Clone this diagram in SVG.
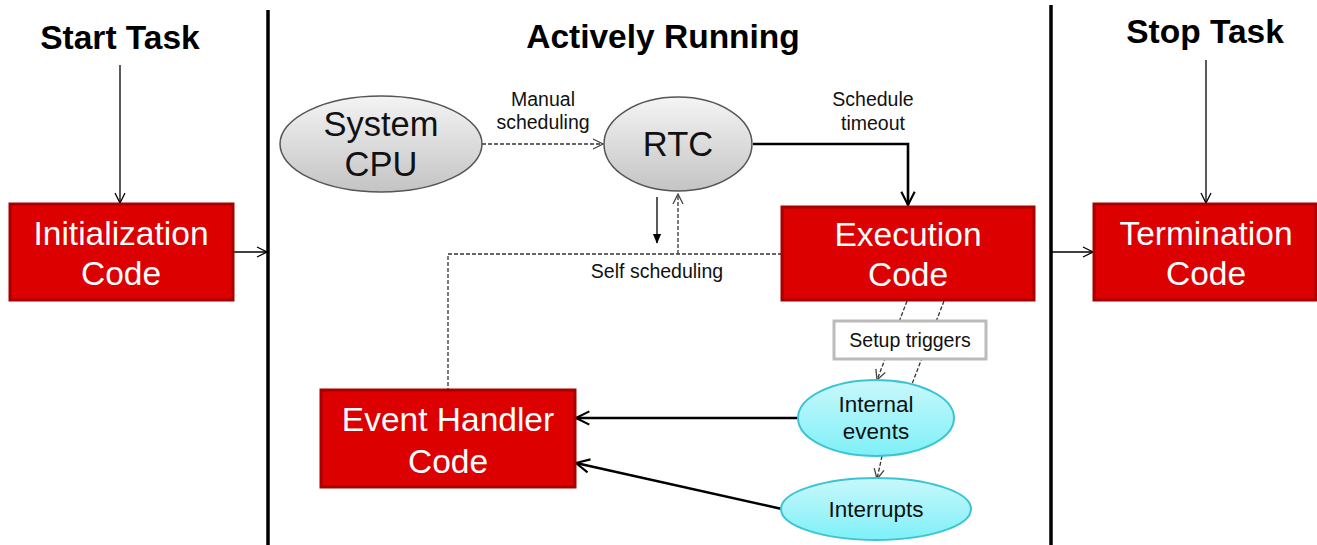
<svg xmlns="http://www.w3.org/2000/svg" width="1317" height="545" viewBox="0 0 1317 545">
<defs>
<linearGradient id="gray" x1="0" y1="0" x2="0" y2="1"><stop offset="0" stop-color="#f4f4f4"/><stop offset="1" stop-color="#c4c4c4"/></linearGradient>
<linearGradient id="cyan" x1="0" y1="0" x2="0" y2="1"><stop offset="0" stop-color="#c8f8fb"/><stop offset="1" stop-color="#7ef0f8"/></linearGradient>
<marker id="ah" viewBox="0 0 12 12" refX="11" refY="6" markerWidth="12" markerHeight="12" markerUnits="userSpaceOnUse" orient="auto"><path d="M1,1 L11,6 L1,11" fill="none" stroke="#000" stroke-width="1.3"/></marker>
<marker id="ahd" viewBox="0 0 12 12" refX="11" refY="6" markerWidth="12" markerHeight="12" markerUnits="userSpaceOnUse" orient="auto"><path d="M1,1 L11,6 L1,11" fill="none" stroke="#444" stroke-width="1.3"/></marker>
<marker id="ahb" viewBox="0 0 12 12" refX="11" refY="6" markerWidth="16" markerHeight="16" markerUnits="userSpaceOnUse" orient="auto"><path d="M1,1 L11,6 L1,11" fill="none" stroke="#000" stroke-width="1.6"/></marker>
<marker id="ahf" viewBox="0 0 12 12" refX="11" refY="6" markerWidth="10" markerHeight="12" markerUnits="userSpaceOnUse" orient="auto"><path d="M0,1 L12,6 L0,11 Z" fill="#000"/></marker>
</defs>
<style>
.title{font-family:"Liberation Sans",Arial,sans-serif;font-weight:bold;font-size:33.5px;fill:#000;text-anchor:middle}
.red{fill:#dc0000;stroke:#a80000;stroke-width:3}
.rt{font-family:"Liberation Sans",Arial,sans-serif;font-size:33.5px;fill:#fff;text-anchor:middle}
.gt{font-family:"Liberation Sans",Arial,sans-serif;font-size:34.5px;fill:#111;text-anchor:middle}
.ct{font-family:"Liberation Sans",Arial,sans-serif;font-size:22.5px;fill:#111;text-anchor:middle}
.lbl{font-family:"Liberation Sans",Arial,sans-serif;font-size:19.5px;fill:#111;text-anchor:middle}
.gray{fill:url(#gray);stroke:#555;stroke-width:1.5}
.cy{fill:url(#cyan);stroke:#3cc4d4;stroke-width:2}
.thin{fill:none;stroke:#000;stroke-width:1.3}
.thick{fill:none;stroke:#000;stroke-width:2.6}
.dash{fill:none;stroke:#333;stroke-width:1.3;stroke-dasharray:4,2}
.sep{stroke:#000;stroke-width:3.5}
</style>
<g id="separators">
<line class="sep" x1="268" y1="10" x2="268" y2="545"/>
<line class="sep" x1="1051" y1="5" x2="1051" y2="545"/>
</g>
<g id="titles">
<text class="title" x="120" y="49">Start Task</text>
<text class="title" x="663" y="48">Actively Running</text>
<text class="title" x="1205" y="43">Stop Task</text>
</g>
<g id="connectors">
<line class="thin" x1="120" y1="65" x2="120" y2="203" marker-end="url(#ah)"/>
<line class="thin" x1="233" y1="252" x2="267" y2="252" marker-end="url(#ah)"/>
<line class="thin" x1="1206" y1="60" x2="1206" y2="203" marker-end="url(#ah)"/>
<line class="thin" x1="1052" y1="252" x2="1093" y2="252" marker-end="url(#ah)"/>
<line class="dash" x1="482" y1="144" x2="603" y2="144" marker-end="url(#ahd)"/>
<polyline class="thick" points="753,144 908,144 908,205" marker-end="url(#ahb)"/>
<line class="thin" x1="657" y1="197" x2="657" y2="243" marker-end="url(#ahf)"/>
<polyline class="dash" points="782,254 448,254 448,390"/>
<line class="dash" x1="678" y1="254" x2="678" y2="194" marker-end="url(#ahd)"/>
<line class="dash" x1="907" y1="301" x2="877" y2="380" marker-end="url(#ahd)"/>
<line class="dash" x1="944" y1="301" x2="912" y2="384"/>
<line class="dash" x1="882" y1="456" x2="877" y2="479" marker-end="url(#ahd)"/>
<line class="thick" x1="798" y1="418" x2="576" y2="418" marker-end="url(#ahb)"/>
<line class="thick" x1="782" y1="509" x2="576" y2="463" marker-end="url(#ahb)"/>
</g>
<g id="labels">
<text class="lbl" x="543" y="106">Manual</text>
<text class="lbl" x="543" y="129">scheduling</text>
<text class="lbl" x="873" y="106">Schedule</text>
<text class="lbl" x="873" y="130">timeout</text>
<text class="lbl" x="657" y="278">Self scheduling</text>
</g>
<g id="init"><rect class="red" x="10" y="204" width="223" height="96"/><text class="rt" x="121" y="245">Initialization</text><text class="rt" x="121" y="285">Code</text></g>
<g id="term"><rect class="red" x="1094" y="204" width="222" height="96"/><text class="rt" x="1206" y="245">Termination</text><text class="rt" x="1206" y="285">Code</text></g>
<g id="exec"><rect class="red" x="782" y="207" width="252" height="93"/><text class="rt" x="908" y="246">Execution</text><text class="rt" x="908" y="286">Code</text></g>
<g id="handler"><rect class="red" x="321" y="390" width="254" height="97"/><text class="rt" x="448" y="431">Event Handler</text><text class="rt" x="448" y="473">Code</text></g>
<g id="cpu"><ellipse class="gray" cx="381" cy="144" rx="101" ry="48"/><text class="gt" x="381" y="136">System</text><text class="gt" x="381" y="176">CPU</text></g>
<g id="rtc"><ellipse class="gray" cx="678" cy="144" rx="74" ry="47"/><text class="gt" x="678" y="156">RTC</text></g>
<g id="setup"><rect x="834" y="321" width="152" height="38" fill="#fff" stroke="#bbb" stroke-width="3"/><text class="lbl" x="910" y="347">Setup triggers</text></g>
<g id="internal"><ellipse class="cy" cx="876" cy="418" rx="78" ry="38"/><text class="ct" x="876" y="412">Internal</text><text class="ct" x="876" y="439">events</text></g>
<g id="interrupts"><ellipse class="cy" cx="876" cy="509" rx="95" ry="31"/><text class="ct" x="876" y="517">Interrupts</text></g>
</svg>
